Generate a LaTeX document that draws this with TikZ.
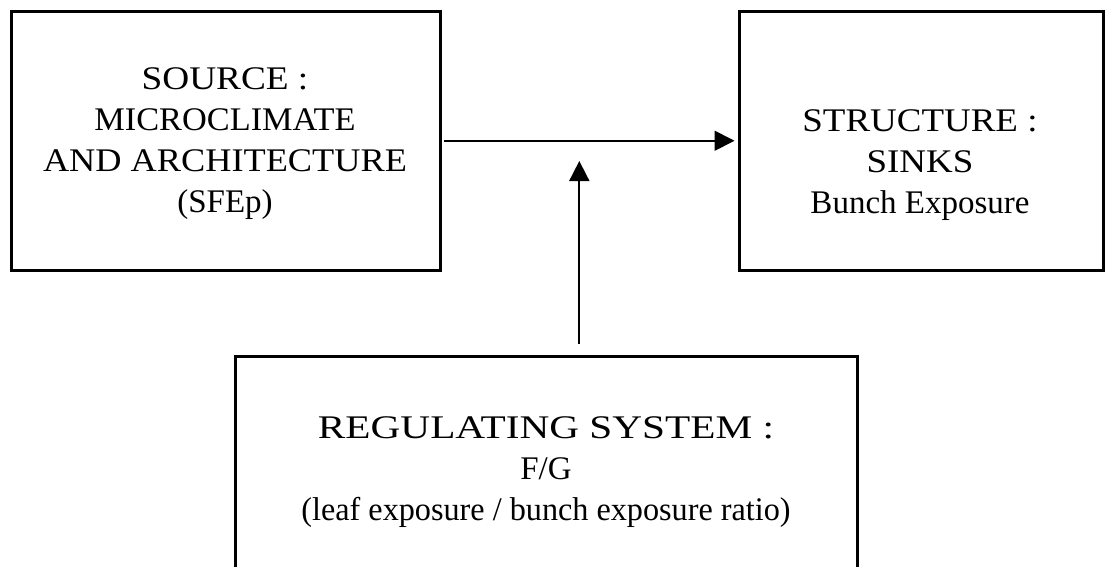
\documentclass[tikz,border=0pt]{standalone}
\usepackage{fontspec}
\setmainfont{Liberation Serif}
\usetikzlibrary{arrows.meta}
\newcommand{\hs}[2]{\scalebox{#1}[1]{#2}}
\begin{document}
\begin{tikzpicture}[x=1pt,y=-1pt,
  box/.style={draw=black,line width=3pt,inner sep=0pt,outer sep=0pt},
  lbl/.style={align=center,inner sep=0pt,font=\fontsize{33}{41}\selectfont},
  arr/.style={line width=1.8pt,-{Triangle[length=20pt,width=20pt]}}]
\useasboundingbox (0,0) rectangle (1108,566);
\fill[white] (0,0) rectangle (1108,566);
\node[box,minimum width=428.5pt,minimum height=258.5pt] (src) at (225.75,140.75) {};
\node[box,minimum width=364pt,minimum height=258.5pt] (snk) at (921,140.75) {};
\node[box,minimum width=621.7pt,minimum height=300pt] (reg) at (546.15,506.7) {};
\node[lbl] (srct) at (225,143.5) {\hs{1.13}{SOURCE :}\\\hs{1.04}{MICROCLIMATE}\\\hs{1.1}{AND ARCHITECTURE}\\(SFEp)};
\node[lbl] (snkt) at (920,165.5) {\hs{1.12}{STRUCTURE :}\\\hs{1.12}{SINKS}\\Bunch Exposure};
\node[lbl] (regt) at (546,472) {\hs{1.25}{REGULATING SYSTEM :}\\F/G\\\hs{0.976}{(leaf exposure / bunch exposure ratio)}};
\coordinate (vtip) at (579.3,161);
\draw[arr,shorten <=3.5pt,shorten >=4.5pt] (src.east) -- (snk.west);
\draw[arr,shorten <=12.5pt] (reg.north -| vtip) -- (vtip);
\end{tikzpicture}
\end{document}
